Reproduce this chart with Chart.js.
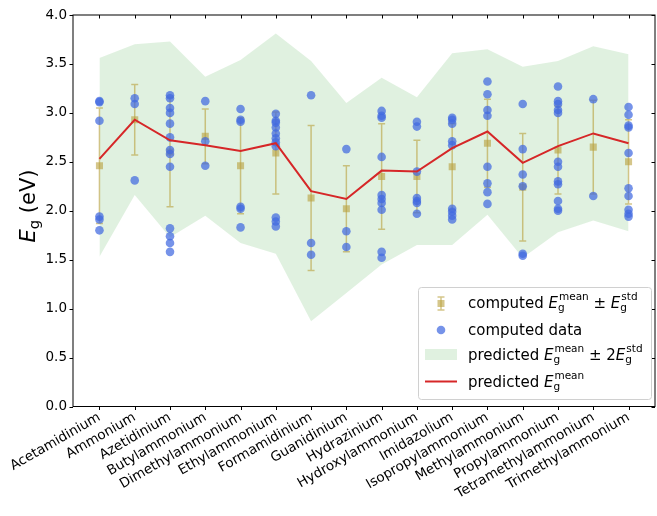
<!DOCTYPE html>
<html>
<head>
<meta charset="utf-8">
<script src="https://cdn.jsdelivr.net/npm/chart.js@4/dist/chart.umd.min.js"></script>
<style>
  html, body { margin: 0; padding: 0; background: #fff; overflow: hidden; }
  #wrap { width: 660px; height: 516px; }
</style>
</head>
<body>
<div id="wrap"><canvas id="gapChart"></canvas></div>
<script>
const cations = ["Acetamidinium", "Ammonium", "Azetidinium", "Butylammonium", "Dimethylammonium",
    "Ethylammonium", "Formamidinium", "Guanidinium", "Hydrazinium", "Hydroxylammonium",
    "Imidazolium", "Isopropylammonium", "Methylammonium", "Propylammonium",
    "Tetramethylammonium", "Trimethylammonium"];

// computed mean / std (error bars)
const computedMean = [2.46, 2.93, 2.60, 2.76, 2.46, 2.59, 2.13, 2.02, 2.35, 2.35, 2.45, 2.69, 2.24, 2.62, 2.65, 2.50];
const computedStd  = [0.59, 0.36, 0.56, 0.28, 0.49, 0.42, 0.74, 0.44, 0.54, 0.37, 0.44, 0.45, 0.55, 0.45, 0.48, 0.43];

// predicted mean and the +/- 2 std band
const predictedMean = [2.53, 2.93, 2.72, 2.67, 2.61, 2.69, 2.20, 2.12, 2.41, 2.40, 2.64, 2.81, 2.49, 2.66, 2.79, 2.69];
const bandUpper = [3.56, 3.70, 3.73, 3.37, 3.54, 3.81, 3.53, 3.10, 3.36, 3.16, 3.61, 3.65, 3.47, 3.53, 3.68, 3.60];
const bandLower = [1.53, 2.16, 1.73, 1.95, 1.67, 1.56, 0.87, 1.16, 1.45, 1.65, 1.65, 1.96, 1.52, 1.78, 1.90, 1.79];

// individual computed band gaps, one list per cation
const computedData = [
    [3.12, 3.11, 2.92, 1.94, 1.91, 1.80],
    [3.15, 3.09, 2.31],
    [3.18, 3.15, 3.05, 3.00, 2.89, 2.75, 2.62, 2.58, 2.45, 1.82, 1.74, 1.67, 1.58],
    [3.12, 2.71, 2.46],
    [3.04, 2.93, 2.91, 2.04, 2.02, 1.83],
    [2.99, 2.92, 2.90, 2.85, 2.79, 2.74, 2.70, 2.66, 1.93, 1.89, 1.84],
    [3.18, 1.67, 1.55],
    [2.63, 1.79, 1.63],
    [3.02, 2.97, 2.95, 2.55, 2.16, 2.12, 2.08, 2.01, 1.58, 1.52],
    [2.91, 2.86, 2.40, 2.13, 2.10, 2.08, 1.97],
    [2.95, 2.93, 2.89, 2.71, 2.67, 2.02, 1.99, 1.95, 1.91],
    [3.32, 3.19, 3.03, 2.97, 2.45, 2.28, 2.19, 2.07],
    [3.09, 2.63, 2.37, 2.25, 1.56, 1.54],
    [3.27, 3.12, 3.09, 3.03, 3.00, 2.50, 2.45, 2.30, 2.27, 2.10, 2.02, 2.00],
    [3.14, 2.15],
    [3.06, 2.98, 2.87, 2.85, 2.59, 2.23, 2.15, 2.01, 1.97, 1.94]
];

const yTicks = [0, 0.5, 1.0, 1.5, 2.0, 2.5, 3.0, 3.5, 4.0];

const FONT = '"DejaVu Sans", sans-serif';
const ERR_COLOR = "rgba(185,160,60,0.6)";
const DOT_COLOR = "rgba(65,105,225,0.72)";
const BAND_COLOR = "rgba(44,160,44,0.15)";
const LINE_COLOR = "#d62728";

const pts = (arr) => arr.map((v, i) => ({ x: i, y: v }));
const dotPts = [];
computedData.forEach((list, i) => list.forEach(v => dotPts.push({ x: i, y: v })));

// text with italic E and stacked sub/superscripts
function drawRich(ctx, x, y, parts, size) {
    for (const p of parts) {
        if (p.sub !== undefined) {
            ctx.font = (size * 0.7) + "px " + FONT;
            let w = 0;
            if (p.sup) {
                ctx.fillText(p.sup, x + 1, y - size * 0.52);
                w = ctx.measureText(p.sup).width + 1;
            }
            ctx.fillText(p.sub, x, y + size * 0.2);
            w = Math.max(w, ctx.measureText(p.sub).width);
            x += w;
        } else {
            ctx.font = (p.it ? "italic " : "") + size + "px " + FONT;
            ctx.fillText(p.t, x, y);
            x += ctx.measureText(p.t).width;
        }
    }
    return x;
}
function richWidth(ctx, parts, size) {
    let w = 0;
    for (const p of parts) {
        if (p.sub !== undefined) {
            ctx.font = (size * 0.7) + "px " + FONT;
            w += Math.max(p.sup ? ctx.measureText(p.sup).width + 1 : 0, ctx.measureText(p.sub).width);
        } else {
            ctx.font = (p.it ? "italic " : "") + size + "px " + FONT;
            w += ctx.measureText(p.t).width;
        }
    }
    return w;
}

const errorBars = {
    id: "errorBars",
    beforeDatasetDraw(chart, args) {
        if (args.index !== 2) return;
        const { ctx, scales: { x, y } } = chart;
        ctx.save();
        ctx.strokeStyle = ERR_COLOR;
        ctx.lineWidth = 1.5;
        computedMean.forEach((m, i) => {
            const px = x.getPixelForValue(i);
            const top = y.getPixelForValue(m + computedStd[i]);
            const bot = y.getPixelForValue(m - computedStd[i]);
            ctx.beginPath();
            ctx.moveTo(px, top); ctx.lineTo(px, bot);
            ctx.moveTo(px - 3.5, top); ctx.lineTo(px + 3.5, top);
            ctx.moveTo(px - 3.5, bot); ctx.lineTo(px + 3.5, bot);
            ctx.stroke();
        });
        ctx.restore();
    }
};

const frame = {
    id: "frame",
    afterDraw(chart) {
        const { ctx, chartArea: a, scales: { x, y } } = chart;
        ctx.save();
        ctx.strokeStyle = "#000";
        ctx.lineWidth = 1;
        ctx.strokeRect(a.left, a.top, a.right - a.left, a.bottom - a.top);
        ctx.beginPath();
        yTicks.forEach(v => {
            const py = Math.round(y.getPixelForValue(v)) + 0.5;
            ctx.moveTo(a.left - 3.5, py); ctx.lineTo(a.left, py);
            ctx.moveTo(a.right - 3.5, py); ctx.lineTo(a.right, py);
        });
        cations.forEach((_, i) => {
            const px = Math.round(x.getPixelForValue(i)) + 0.5;
            ctx.moveTo(px, a.bottom); ctx.lineTo(px, a.bottom + 3.5);
            ctx.moveTo(px, a.top); ctx.lineTo(px, a.top + 3.5);
        });
        ctx.stroke();

        // y axis title
        ctx.fillStyle = "#000";
        ctx.textBaseline = "alphabetic";
        const title = [{ t: "E", it: true }, { sub: "g" }, { t: " (eV)" }];
        const tw = richWidth(ctx, title, 21);
        ctx.translate(35, 206);
        ctx.rotate(-Math.PI / 2);
        drawRich(ctx, -tw / 2, 0, title, 21);
        ctx.restore();

        // legend
        ctx.save();
        const L = 418.5, T = 287.5, W = 233, H = 112;
        ctx.fillStyle = "rgba(255,255,255,0.8)";
        ctx.strokeStyle = "#d0d0d0";
        ctx.lineWidth = 1;
        ctx.beginPath();
        ctx.roundRect(L, T, W, H, 3);
        ctx.fill();
        ctx.stroke();

        const tx = 468, size = 15;
        const em = [{ t: "E", it: true }, { sub: "g", sup: "mean" }];
        const es = [{ t: "E", it: true }, { sub: "g", sup: "std" }];
        // 1: error bar entry
        ctx.strokeStyle = ERR_COLOR;
        ctx.lineWidth = 1.5;
        ctx.beginPath();
        ctx.moveTo(441, 297); ctx.lineTo(441, 310);
        ctx.moveTo(437.5, 297); ctx.lineTo(444.5, 297);
        ctx.moveTo(437.5, 310); ctx.lineTo(444.5, 310);
        ctx.stroke();
        ctx.fillStyle = ERR_COLOR;
        ctx.fillRect(437.5, 300, 7, 7);
        ctx.fillStyle = "#000";
        drawRich(ctx, tx, 308, [{ t: "computed " }, ...em, { t: " \u00b1 " }, ...es], size);
        // 2: dots
        ctx.fillStyle = DOT_COLOR;
        ctx.beginPath();
        ctx.arc(441, 330, 4.3, 0, Math.PI * 2);
        ctx.fill();
        ctx.fillStyle = "#000";
        drawRich(ctx, tx, 334.5, [{ t: "computed data" }], size);
        // 3: band
        ctx.fillStyle = BAND_COLOR;
        ctx.fillRect(425, 349, 32, 11);
        ctx.fillStyle = "#000";
        drawRich(ctx, tx, 360, [{ t: "predicted " }, ...em, { t: " \u00b1 2" }, ...es], size);
        // 4: line
        ctx.strokeStyle = LINE_COLOR;
        ctx.lineWidth = 2;
        ctx.beginPath();
        ctx.moveTo(425, 381.5); ctx.lineTo(457, 381.5);
        ctx.stroke();
        drawRich(ctx, tx, 386.5, [{ t: "predicted " }, ...em], size);
        ctx.restore();
    }
};

const ctx = document.getElementById("gapChart").getContext("2d");
new Chart(ctx, {
    data: {
        datasets: [
            {
                type: "line",
                label: "predicted mean",
                data: pts(predictedMean),
                borderColor: LINE_COLOR,
                borderWidth: 2,
                pointRadius: 0,
                tension: 0,
                fill: false,
                order: 0
            },
            {
                type: "scatter",
                label: "computed data",
                data: dotPts,
                backgroundColor: DOT_COLOR,
                borderWidth: 0,
                pointRadius: 4.3,
                order: 1
            },
            {
                type: "scatter",
                label: "computed mean",
                data: pts(computedMean),
                backgroundColor: ERR_COLOR,
                borderWidth: 0,
                pointStyle: "rect",
                pointRadius: 5,
                order: 2
            },
            {
                type: "line",
                label: "band upper",
                data: pts(bandUpper),
                borderWidth: 0,
                pointRadius: 0,
                tension: 0,
                fill: false,
                order: 3
            },
            {
                type: "line",
                label: "band lower",
                data: pts(bandLower),
                borderWidth: 0,
                pointRadius: 0,
                tension: 0,
                fill: "-1",
                backgroundColor: BAND_COLOR,
                order: 3
            }
        ]
    },
    options: {
        responsive: true,
        maintainAspectRatio: false,
        animation: false,
        layout: { padding: { top: 15, left: 0, right: 0, bottom: 0 } },
        plugins: { legend: { display: false }, tooltip: { enabled: false } },
        scales: {
            x: {
                type: "linear",
                min: -0.75,
                max: 15.75,
                afterBuildTicks: (axis) => { axis.ticks = cations.map((_, i) => ({ value: i })); },
                afterFit: (axis) => { axis.height = 109.5; },
                grid: { display: false, drawTicks: false },
                border: { display: false },
                ticks: {
                    autoSkip: false,
                    minRotation: 30,
                    maxRotation: 30,
                    padding: 3,
                    color: "#000",
                    font: { family: FONT, size: 13.5 },
                    callback: (v) => cations[v]
                }
            },
            y: {
                min: 0,
                max: 4,
                afterBuildTicks: (axis) => { axis.ticks = yTicks.map(v => ({ value: v })); },
                afterFit: (axis) => { axis.width = 73; },
                grid: { display: false, drawTicks: false },
                border: { display: false },
                ticks: {
                    padding: 6,
                    color: "#000",
                    font: { family: FONT, size: 13.5 },
                    callback: (v) => v.toFixed(1)
                }
            }
        }
    },
    plugins: [errorBars, frame]
});
</script>
</body>
</html>
